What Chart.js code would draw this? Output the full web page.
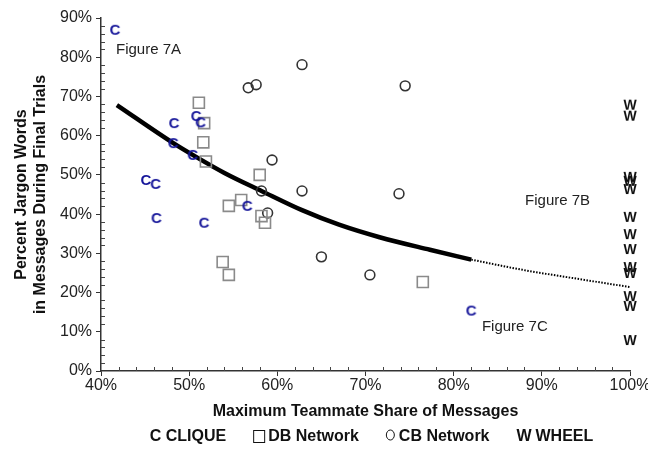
<!DOCTYPE html>
<html>
<head>
<meta charset="utf-8">
<script src="https://cdn.jsdelivr.net/npm/chart.js@4.4.0/dist/chart.umd.min.js"></script>
<style>
  html, body { margin: 0; padding: 0; background: #fff; }
</style>
</head>
<body>
<canvas id="myChart" width="648" height="449"></canvas>
<script>
// data (percent)
let cliqueX = [41.6, 48.3, 48.2, 50.4, 50.8, 51.3, 45.1, 46.2, 46.3, 51.7, 56.6, 82.0];
let cliqueY = [87.0, 63.2, 58.1, 55.1, 65.0, 63.4, 48.7, 47.7, 39.0, 37.8, 42.1, 15.4];

let dbX = [51.1, 51.7, 51.6, 51.9, 58.0, 55.9, 54.5, 58.2, 58.6, 53.8, 54.5, 76.5];
let dbY = [68.4, 63.2, 58.3, 53.4, 50.0, 43.6, 42.1, 39.5, 37.8, 27.8, 24.5, 22.7];

let cbX = [62.8, 56.7, 57.6, 74.5, 59.4, 58.2, 58.9, 62.8, 73.8, 65.0, 70.5];
let cbY = [78.1, 72.2, 73.0, 72.7, 53.8, 45.9, 40.3, 45.9, 45.2, 29.1, 24.5];

let wheelX = [100, 100, 100, 100, 100, 100, 100, 100, 100, 100, 100, 100, 100];
let wheelY = [67.9, 65.1, 49.5, 48.5, 46.4, 39.3, 34.9, 31.1, 26.5, 25.0, 19.1, 16.6, 7.9];

// fitted curve as drawn: solid part, then dotted extension
let fitX = [41.8, 48.2, 50.4, 54.0, 58.2, 62.8, 67.0, 71.6, 77.3, 82.0];
let fitY = [67.8, 58.1, 55.1, 50.5, 45.9, 41.0, 37.3, 34.1, 30.9, 28.4];
let extX = [82.0, 87.8, 93.5, 100];
let extY = [28.4, 25.8, 23.7, 21.4];

let xTicks = [40, 50, 60, 70, 80, 90, 100];
let yTicks = [0, 10, 20, 30, 40, 50, 60, 70, 80, 90];

let notes = ['Figure 7A', 'Figure 7B', 'Figure 7C'];
let noteX = [41.7, 88.1, 83.2];
let noteY = [81.9, 43.4, 11.2];

const FONT = "'Liberation Sans', Arial, sans-serif";

function pts(xs, ys) {
  return xs.map((x, i) => ({ x: x, y: ys[i] }));
}

function letterMark(ch, color, size) {
  let c = document.createElement('canvas');
  c.width = 20;
  c.height = 20;
  let g = c.getContext('2d');
  g.font = 'bold ' + size + 'px ' + FONT;
  g.fillStyle = color;
  g.textAlign = 'center';
  g.textBaseline = 'middle';
  g.fillText(ch, 10, 11);
  return c;
}

let cMark = letterMark('C', '#16169a', 15);
let wMark = letterMark('W', '#111', 14);

// minor ticks, note texts and the legend row
let extras = {
  id: 'extras',
  afterDraw(chart) {
    let ctx = chart.ctx;
    let xs = chart.scales.x, ys = chart.scales.y;
    let area = chart.chartArea;
    ctx.save();
    ctx.strokeStyle = '#444';
    ctx.lineWidth = 1;
    ctx.beginPath();
    for (let v = 2; v < 90; v += 2) {
      if (v % 10 === 0) continue;
      let py = Math.round(ys.getPixelForValue(v)) + 0.5;
      ctx.moveTo(area.left, py);
      ctx.lineTo(area.left + 4, py);
    }
    for (let v = 42; v < 100; v += 2) {
      if (v % 10 === 0) continue;
      let px = Math.round(xs.getPixelForValue(v)) + 0.5;
      ctx.moveTo(px, area.bottom);
      ctx.lineTo(px, area.bottom - 4);
    }
    ctx.stroke();

    ctx.font = '15px ' + FONT;
    ctx.fillStyle = '#222';
    ctx.textAlign = 'left';
    ctx.textBaseline = 'middle';
    notes.forEach((t, i) => {
      ctx.fillText(t, xs.getPixelForValue(noteX[i]), ys.getPixelForValue(noteY[i]));
    });

    // legend
    ctx.font = 'bold 16px ' + FONT;
    ctx.fillStyle = '#111';
    ctx.strokeStyle = '#111';
    let items = chart.data.datasets.filter(d => d.legendMark);
    let markW = { C: 16, W: 19, square: 15, circle: 13 };
    let gap = 27;
    let total = 0;
    items.forEach((d, i) => {
      total += markW[d.legendMark] + ctx.measureText(d.label).width + (i ? gap : 0);
    });
    let x = (area.left + area.right) / 2 - total / 2 + 6;
    let y = 437;
    items.forEach(d => {
      let m = d.legendMark;
      if (m === 'C' || m === 'W') {
        ctx.fillText(m, x, y);
      } else if (m === 'square') {
        ctx.lineWidth = 1;
        ctx.strokeRect(x + 0.5, y - 6.5, 11, 12);
      } else {
        ctx.lineWidth = 1;
        ctx.beginPath();
        ctx.ellipse(x + 4.5, y - 2, 4, 5, 0, 0, Math.PI * 2);
        ctx.stroke();
      }
      x += markW[m];
      ctx.fillText(d.label, x, y);
      x += ctx.measureText(d.label).width + gap;
    });
    ctx.restore();
  }
};

let ctx = document.getElementById('myChart').getContext('2d');

let myChart = new Chart(ctx, {
  type: 'scatter',
  data: {
    datasets: [
      {
        label: 'fit', type: 'line', data: pts(fitX, fitY),
        borderColor: '#000', borderWidth: 4.5, pointRadius: 0,
        cubicInterpolationMode: 'monotone', fill: false, order: 5
      },
      {
        label: 'fit ext', type: 'line', data: pts(extX, extY),
        borderColor: '#000', borderWidth: 2, borderDash: [1.5, 1.5], pointRadius: 0,
        cubicInterpolationMode: 'monotone', fill: false, order: 5
      },
      {
        label: 'CLIQUE', legendMark: 'C', data: pts(cliqueX, cliqueY),
        pointStyle: cMark, pointRadius: 8, order: 1
      },
      {
        label: 'DB Network', legendMark: 'square', data: pts(dbX, dbY),
        pointStyle: 'rect', pointRadius: 7.8, borderColor: '#8a8a8a', borderWidth: 1.6,
        backgroundColor: 'rgba(0,0,0,0)', order: 2
      },
      {
        label: 'CB Network', legendMark: 'circle', data: pts(cbX, cbY),
        pointStyle: 'circle', pointRadius: 4.9, borderColor: '#333', borderWidth: 1.6,
        backgroundColor: 'rgba(0,0,0,0)', order: 2
      },
      {
        label: 'WHEEL', legendMark: 'W', data: pts(wheelX, wheelY),
        pointStyle: wMark, pointRadius: 8, clip: false, order: 1
      }
    ]
  },
  options: {
    responsive: false,
    animation: false,
    layout: { padding: { top: 18, right: 18, left: 0, bottom: 0 } },
    plugins: {
      legend: { display: false },
      tooltip: { enabled: false }
    },
    scales: {
      x: {
        type: 'linear', min: 40, max: 100,
        afterBuildTicks: (s) => { s.ticks = xTicks.map(v => ({ value: v })); },
        afterFit: (s) => { s.height = 78; s.paddingRight = 0; s.paddingLeft = 0; },
        grid: { drawOnChartArea: false, drawTicks: true, tickLength: 5, color: '#333', lineWidth: 1 },
        border: { display: true, color: '#333', width: 1.5 },
        ticks: { color: '#222', padding: 0, font: { family: FONT, size: 16 }, callback: v => v + '%' },
        title: {
          display: true, text: 'Maximum Teammate Share of Messages', color: '#111',
          font: { family: FONT, size: 16, weight: 'bold' }, padding: { top: 0, bottom: 28 }
        }
      },
      y: {
        type: 'linear', min: 0, max: 90,
        afterBuildTicks: (s) => { s.ticks = yTicks.map(v => ({ value: v })); },
        afterFit: (s) => { s.width = 101; },
        grid: { drawOnChartArea: false, drawTicks: true, tickLength: 5, color: '#333', lineWidth: 1 },
        border: { display: true, color: '#333', width: 1.5 },
        ticks: { color: '#222', padding: 4, font: { family: FONT, size: 16 }, callback: v => v + '%' },
        title: {
          display: true, text: ['Percent Jargon Words', 'in Messages During Final Trials'], color: '#111',
          font: { family: FONT, size: 16, weight: 'bold' }, padding: { top: 12, bottom: 0 }
        }
      }
    }
  },
  plugins: [extras]
});
</script>
</body>
</html>
